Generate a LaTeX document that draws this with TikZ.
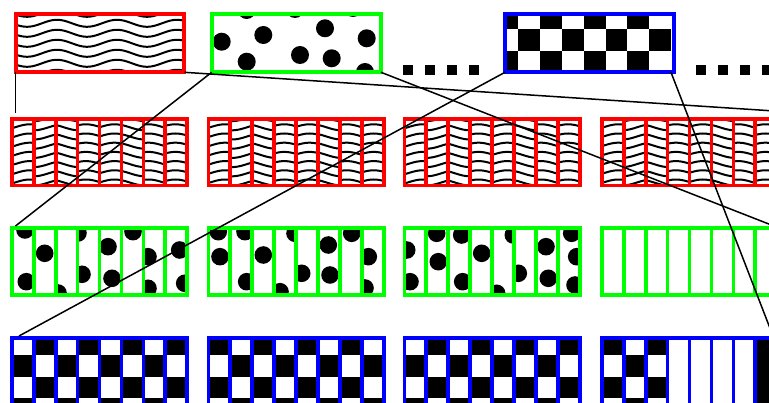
\documentclass[tikz,border=0pt]{standalone}
\newcommand\wavestrips[2]{%
  \foreach \ph [count=\s from 0] in {#2} {%
    \pgfmathsetmacro\xa{#1+21.95*\s}%
    \pgfmathsetmacro\xb{#1+21.95*(\s+1)}%
    \begin{scope}
      \clip (\xa,119) rectangle ++(21.95,66.6);
      \foreach \k in {-1,...,7}
        \draw[wave] plot[domain=\xa:\xb, samples=16, smooth] (\x,{127.3+9.2*\k-3*sin(\ph+6*(\x-\xa))});
    \end{scope}}}
\newcommand\dotstrips[2]{%
  \foreach \dx/\dy in {#2} {%
    \pgfmathtruncatemacro\s{floor((\dx-#1)/21.95)}%
    \pgfmathsetmacro\xa{#1+21.95*\s}%
    \begin{scope}
      \clip (\xa,228.4) rectangle ++(21.95,66.6);
      \fill (\dx,\dy) circle (8.8pt);
    \end{scope}}}
\newcommand\checkstrips[2]{%
  \foreach \p [count=\s from 0] in {#2} {%
    \pgfmathsetmacro\xa{#1+21.95*\s}%
    \begin{scope}
    \clip (\xa,338) rectangle ++(21.95,70);
    \ifnum\p<2
      \foreach \j in {0,...,3}{%
        \pgfmathtruncatemacro\b{mod(\j+\p,2)}%
        \ifnum\b=1 \fill (\xa,{333.3+21.7*\j}) rectangle ++(21.95,21.7); \fi}%
    \else
      \ifnum\p=3 \fill (\xa,338) rectangle ++(21.95,70); \fi
    \fi
    \end{scope}}}
\newcommand\stripbox[3]{%
  \foreach \s in {0,...,7} {\draw[boxline,#3] ({#1+21.95*\s},#2) rectangle ++(21.95,66.6);}}
\begin{document}
\begin{tikzpicture}[x=1pt,y=-1pt,
  boxline/.style={line width=3.8pt},
  conn/.style={line width=1.5pt,black},
  wave/.style={line width=2pt,black},
  topbox/.style={draw,line width=3.8pt,inner sep=0pt,outer sep=0pt,minimum height=58pt},
  dotsq/.style={fill=black}]
\useasboundingbox (0,0) rectangle (769,403);
\clip (0,0) rectangle (769,403);

% ---------- top row patterns ----------
\begin{scope}
  \clip (17.35,16) rectangle (182.65,70.65);
  \foreach \k in {0,...,6}
    \draw[wave] plot[domain=15:186, samples=70, smooth] (\x,{13.3+10*\k-3.5*sin(6*(\x-42))});
\end{scope}
\begin{scope}
  \clip (213.35,16) rectangle (379.35,70.65);
  \foreach \dx/\dy in {221.7/41.7,246.7/10,263.3/35,246.7/61.7,295/9,325/28.3,300/55,331.7/58.3,366.7/38.3,353/8,365/72}
    \fill (\dx,\dy) circle (9pt);
\end{scope}
\begin{scope}
  \clip (506.65,16) rectangle (672.65,70.65);
  \foreach \i in {0,...,7}
    \foreach \j in {0,...,3}{%
      \pgfmathtruncatemacro\p{mod(\i+\j,2)}%
      \ifnum\p=0 \fill ({496.5+21.8*\i},{7.3+21.7*\j}) rectangle ++(21.8,21.7); \fi}
\end{scope}
\node[topbox,draw=red,minimum width=168.6pt] (redtop) at (100,43.3) {};
\node[topbox,draw=green,minimum width=169.3pt] (greentop) at (296.35,43.3) {};
\node[topbox,draw=blue,minimum width=169.3pt] (bluetop) at (589.65,43.3) {};

% dotted separators
\foreach \dx in {403,425,447,469,696,718,740,762}
  {\fill[dotsq] (\dx,65) rectangle ++(10,10);}

% ---------- row 2 : red strips ----------
\wavestrips{11.7}{340,270,130,40,0,130,60,30}
\wavestrips{208.4}{350,260,130,30,10,130,50,20}
\wavestrips{404.4}{340,270,140,40,0,130,60,30}
\wavestrips{601.7}{350,280,130,40,10,130,60,30}
\foreach \L in {11.7,208.4,404.4,601.7} {\stripbox{\L}{119}{red}}

% ---------- row 3 : green strips ----------
\dotstrips{11.7}{25/230,26.3/281.7,44.7/253.3,58/293,78/233,82/274.3,108/246.7,112/278.3,133/231.7,148/256.7,148/288.3,179.7/250,184.7/283.3}
\dotstrips{208.4}{218.3/231.7,220/256.7,245/231.7,263.3/255,246.7/281.7,280/291.7,295/233.3,301.7/273.3,328.3/245,330/275,351.7/233.3,368.3/256.7,365/288}
\dotstrips{404.4}{406.7/250,410/281.7,436.7/233.3,438.3/261.7,461.7/235,462.7/281.7,481.7/253.3,496.7/293.3,513.3/235,518.3/273.3,546/246.7,548.3/278.3,571.7/233.3,576.7/256.7,575/285}
\foreach \L in {11.7,208.4,404.4,601.7} {\stripbox{\L}{228.4}{green}}

% ---------- row 4 : blue strips ----------
\checkstrips{11.7}{0,1,0,1,0,1,0,1}
\checkstrips{208.4}{1,0,1,0,1,0,1,0}
\checkstrips{404.4}{0,1,0,1,0,1,0,1}
\checkstrips{601.7}{1,0,1,2,2,2,2,3}
\foreach \L in {11.7,208.4,404.4,601.7} {\stripbox{\L}{338}{blue}}

% ---------- connectors ----------
\coordinate (c1) at (15.7,113);
\coordinate (c2) at (779,111.3);
\coordinate (c3) at (15.5,226);
\coordinate (c4) at (779,228);
\coordinate (c5) at (19,336);
\coordinate (bse) at (671,72.3);
\coordinate (c6) at (773,336);
\draw[conn] (redtop.south west) -- (c1);
\draw[conn] (redtop.south east) -- (c2);
\draw[conn] (greentop.south west) -- (c3);
\draw[conn] (greentop.south east) -- (c4);
\draw[conn] (bluetop.south west) -- (c5);
\draw[conn] (bse) -- (c6);
\end{tikzpicture}
\end{document}
